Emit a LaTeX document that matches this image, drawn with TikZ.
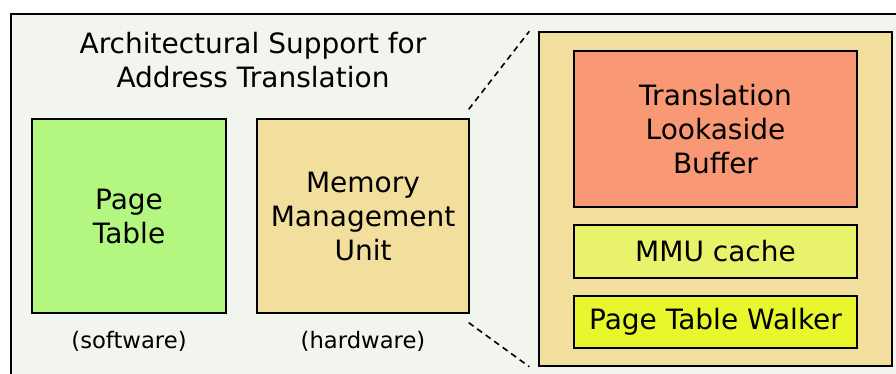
\documentclass[tikz,border=0pt]{standalone}
\usepackage{fontspec}
\setmainfont{DejaVu Sans}
\usetikzlibrary{calc}
\definecolor{panelbg}{HTML}{F2F4EE}
\definecolor{swgreen}{HTML}{B3F680}
\definecolor{hwtan}{HTML}{F3DF9D}
\definecolor{tlbred}{HTML}{F89874}
\definecolor{cacheyel}{HTML}{E8F26B}
\definecolor{walkyel}{HTML}{E8F62E}
\tikzset{
  unit/.style={draw=black, line width=1.4pt, rectangle, inner sep=0pt, align=center,
               font=\fontsize{28}{34}\selectfont},
  caption/.style={inner sep=0pt, font=\fontsize{22.7}{27}\selectfont},
  zoomline/.style={draw=black, line width=1.6pt, dash pattern=on 6pt off 4.5pt},
}
\begin{document}
\begin{tikzpicture}[x=1pt, y=-1pt]
  \useasboundingbox (0,0) rectangle (896,374);
  \begin{scope}
    \clip (0,0) rectangle (896,374);
    % outer panel, running past the right and bottom edges
    \draw[fill=panelbg, line width=1.4pt] (11,14) rectangle (920,400);
  \end{scope}

  % title
  \node[unit, draw=none] (title) at (253,60.5) {Architectural Support for\\Address Translation};

  % software / hardware components
  \node[unit, fill=swgreen, minimum width=194pt, minimum height=194pt] (pt) at (129,216) {Page\\Table};
  \node[unit, fill=hwtan, minimum width=212pt, minimum height=194pt] (mmu) at (363,216) {Memory\\Management\\Unit};
  \node[caption] (sw) at (129,341) {(software)};
  \node[caption] (hw) at (363,341) {(hardware)};

  % expanded view of the MMU
  \node[unit, fill=hwtan, minimum width=353pt, minimum height=334pt] (zoom) at (715.5,199) {};
  \node[unit, fill=tlbred, minimum width=283pt, minimum height=156pt] (tlb) at (715.5,129) {Translation\\Lookaside\\Buffer};
  \node[unit, fill=cacheyel, minimum width=283pt, minimum height=53pt] (cache) at (715.5,251.5) {MMU cache};
  \node[unit, fill=walkyel, minimum width=283pt, minimum height=52pt] (walker) at (715.5,322) {Page Table Walker};

  % dashed guides from the MMU to its expanded view
  \coordinate (za) at ($(zoom.north west)+(-9,0)$);
  \coordinate (zb) at ($(zoom.south west)+(-9,0)$);
  \draw[zoomline] ($(mmu.north east)+(-1,-9)$) -- (za);
  \draw[zoomline] ($(mmu.south east)+(-1,9)$) -- (zb);
\end{tikzpicture}
\end{document}
